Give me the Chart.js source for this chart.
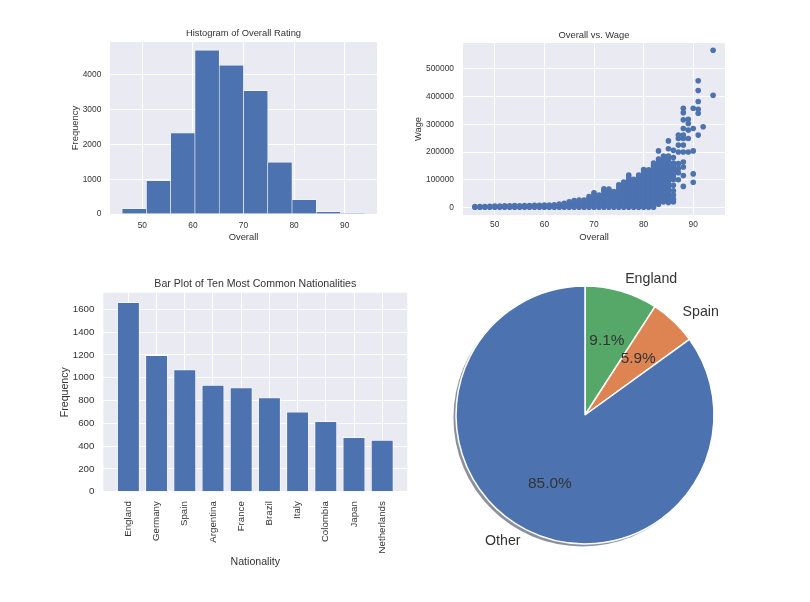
<!DOCTYPE html>
<html>
<head>
<meta charset="utf-8">
<script src="https://cdn.jsdelivr.net/npm/chart.js@4.4.0/dist/chart.umd.min.js"></script>
<style>
  html, body { margin: 0; padding: 0; background: #fff; }
  #page { position: relative; width: 810px; height: 602px; }
  #page canvas { position: absolute; left: 0; top: 0; }
</style>
</head>
<body>
<div id="page">
  <canvas id="histChart" width="810" height="602"></canvas>
  <canvas id="scatterChart" width="810" height="602"></canvas>
  <canvas id="barChart" width="810" height="602"></canvas>
  <canvas id="pieChart" width="810" height="602"></canvas>
</div>
<script>
// histogram of overall rating (10 bins from 46 to 94)
const ratingBinCenters = [48.4, 53.2, 58.0, 62.8, 67.6, 72.4, 77.2, 82.0, 86.8, 91.6];
const ratingCounts = [152, 952, 2324, 4705, 4276, 3543, 1486, 410, 67, 12];
const ratingTicks = [0, 1000, 2000, 3000, 4000];

// overall vs wage, wages (in thousands) read per overall rating
const wageOverall = [46, 47, 48, 49, 50, 51, 52, 53, 54, 55, 56, 57, 58, 59, 60, 61, 62, 63, 64, 65,
  66, 67, 68, 69, 70, 71, 72, 73, 74, 75, 76, 77, 78, 79, 80, 81, 82, 83, 84, 85, 86, 87, 88, 89, 90, 91, 92, 94];
const wageThousands = [
  [1, 3], [1, 3], [1, 3], [1, 4], [1, 5],
  [1, 5], [1, 6], [1, 6], [1, 7], [1, 6],
  [1, 7], [1, 7], [1, 8], [1, 8], [1, 9],
  [1, 9], [1, 10], [1, 6, 12], [1, 8, 15], [1, 7, 14, 20],
  [1, 8, 16, 25], [1, 9, 18, 27], [1, 9, 18, 27], [1, 8, 16, 24, 32, 39],
  [1, 8, 16, 24, 32, 40, 47, 53],
  [1, 8, 16, 24, 32, 39, 45],
  [1, 8, 16, 24, 32, 40, 48, 56, 62, 67],
  [1, 8, 16, 24, 32, 40, 48, 56, 62, 66],
  [1, 8, 16, 24, 32, 40, 48, 57],
  [1, 8, 16, 24, 32, 40, 48, 56, 64, 72, 82],
  [1, 8, 16, 24, 32, 40, 48, 56, 64, 72, 80, 86, 92],
  [1, 8, 16, 24, 32, 40, 48, 56, 64, 72, 80, 88, 96, 104, 110, 117],
  [1, 8, 16, 24, 32, 40, 48, 56, 64, 72, 80, 88, 95, 102],
  [1, 8, 16, 24, 32, 40, 48, 56, 64, 72, 80, 88, 96, 104, 110, 117],
  [1, 8, 16, 24, 32, 40, 48, 56, 64, 72, 80, 88, 96, 104, 112, 120, 128, 137],
  [1, 8, 16, 24, 32, 40, 48, 56, 64, 72, 80, 88, 96, 104, 112, 120, 128, 136],
  [1, 8, 16, 24, 32, 40, 48, 56, 64, 72, 80, 88, 96, 104, 112, 120, 128, 136, 144, 152, 160],
  [12, 20, 28, 36, 44, 52, 60, 68, 76, 84, 92, 100, 108, 116, 124, 132, 140, 148, 156, 164, 175, 204],
  [20, 28, 36, 44, 52, 60, 68, 76, 84, 92, 100, 108, 116, 124, 132, 140, 148, 156, 164, 172, 185],
  [18, 28, 38, 48, 58, 68, 78, 88, 98, 108, 118, 128, 138, 148, 160, 172, 185, 212, 240],
  [20, 30, 45, 60, 80, 100, 110, 120, 130, 140, 150, 160, 180, 206],
  [100, 125, 140, 158, 200, 225, 249, 261],
  [76, 115, 146, 164, 200, 225, 249, 261, 285, 316, 342, 358],
  [200, 249, 279, 303, 318],
  [91, 121, 204, 285, 358],
  [261, 340, 354, 382, 422, 457],
  [291],
  [405, 567]
];
const wageTicks = [0, 100000, 200000, 300000, 400000, 500000];

// ten most common nationalities
const nationalities = ['England', 'Germany', 'Spain', 'Argentina', 'France', 'Brazil', 'Italy', 'Colombia', 'Japan', 'Netherlands'];
const nationalityCounts = [1662, 1198, 1072, 937, 914, 827, 702, 618, 478, 453];

// pie share
const pieLabels = ['England', 'Spain', 'Other'];
const pieCounts = [1662, 1072, 15473];

const BLUE = '#4C72B0';
const ORANGE = '#DD8452';
const GREEN = '#55A868';
const AXES_BG = '#EAEAF2';
const TEXT = '#333333';
const FONT = '"Liberation Sans", Arial, sans-serif';

function font(size) {
  return { family: FONT, size: size, lineHeight: 1.2 };
}

// grey axes background + title centred on the plot area
const framePlugin = {
  id: 'frame',
  beforeDraw(chart, args, opts) {
    const a = chart.chartArea;
    const ctx = chart.ctx;
    ctx.save();
    ctx.fillStyle = AXES_BG;
    ctx.fillRect(a.left, a.top, a.right - a.left, a.bottom - a.top);
    ctx.restore();
  },
  afterDraw(chart, args, opts) {
    const a = chart.chartArea;
    const ctx = chart.ctx;
    ctx.save();
    ctx.font = opts.size + 'px ' + FONT;
    ctx.fillStyle = TEXT;
    ctx.textAlign = 'center';
    ctx.textBaseline = 'middle';
    ctx.fillText(opts.text, (a.left + a.right) / 2, a.top - opts.gap);
    ctx.restore();
  }
};

function linearAxis(o) {
  const axis = {
    type: 'linear',
    min: o.min,
    max: o.max,
    offset: false,
    grid: { color: '#ffffff', lineWidth: 1, drawTicks: false, offset: false },
    border: { display: false },
    ticks: {
      stepSize: o.step,
      includeBounds: false,
      padding: o.pad,
      color: TEXT,
      font: font(o.tickSize),
      autoSkip: false,
      minRotation: o.rotate || 0,
      maxRotation: o.rotate || 0,
      callback: o.labels ? (v) => o.labels[v] : (v) => String(v)
    },
    title: { display: true, text: o.title, color: TEXT, font: font(o.titleSize), padding: 0 },
    afterFit: (scale) => {
      if (scale.isHorizontal()) scale.height = o.box;
      else scale.width = o.box;
    }
  };
  if (o.ticks) {
    axis.afterBuildTicks = (scale) => {
      scale.ticks = o.ticks.map(v => ({ value: v }));
    };
  }
  return axis;
}

function baseOptions(padding, title, titleSize, gap) {
  return {
    responsive: false,
    animation: false,
    events: [],
    layout: { padding: padding },
    plugins: {
      legend: { display: false },
      tooltip: { enabled: false },
      frame: { text: title, size: titleSize, gap: gap }
    }
  };
}

function drawHistogram() {
  const options = baseOptions({ left: 69.4, top: 42, right: 433, bottom: 359.4 }, 'Histogram of Overall Rating', 9.4, 8.7);
  options.scales = {
    x: linearAxis({ min: 43.6, max: 96.4, step: 10, pad: 7, tickSize: 8.4, title: 'Overall', titleSize: 9.4, box: 28.6 }),
    y: linearAxis({ min: 0, max: 4940, ticks: ratingTicks, pad: 8.7, tickSize: 8.4, title: 'Frequency', titleSize: 9.4, box: 40.6 })
  };
  new Chart(document.getElementById('histChart'), {
    type: 'bar',
    data: {
      datasets: [{
        data: ratingBinCenters.map((x, i) => ({ x: x, y: ratingCounts[i] })),
        backgroundColor: BLUE,
        borderColor: '#ffffff',
        borderWidth: 0.6,
        barPercentage: 1,
        categoryPercentage: 1
      }]
    },
    options: options,
    plugins: [framePlugin]
  });
}

function drawScatter() {
  const points = [];
  wageOverall.forEach((ov, i) => {
    wageThousands[i].forEach(w => points.push({ x: ov, y: w * 1000 }));
  });
  const options = baseOptions({ left: 412.4, top: 43, right: 85, bottom: 359.1 }, 'Overall vs. Wage', 9.4, 8);
  options.scales = {
    x: linearAxis({ min: 43.6, max: 96.4, step: 10, pad: 5, tickSize: 8.4, title: 'Overall', titleSize: 9.4, box: 27.9 }),
    y: linearAxis({ min: -27200, max: 593200, ticks: wageTicks, pad: 9, tickSize: 8.4, title: 'Wage', titleSize: 9.4, box: 50.6 })
  };
  new Chart(document.getElementById('scatterChart'), {
    type: 'scatter',
    data: {
      datasets: [{
        data: points,
        backgroundColor: BLUE,
        borderWidth: 0,
        pointRadius: 2.8
      }]
    },
    options: options,
    plugins: [framePlugin]
  });
}

function drawBars() {
  const options = baseOptions({ left: 58.6, top: 292.7, right: 402.7, bottom: 33.9 }, 'Bar Plot of Ten Most Common Nationalities', 10.6, 8.7);
  options.scales = {
    x: linearAxis({ min: -0.89, max: 9.89, step: 1, pad: 9.5, tickSize: 9.7, title: 'Nationality', titleSize: 10.6, box: 76.4, rotate: 90, labels: nationalities }),
    y: linearAxis({ min: 0, max: 1745, step: 200, pad: 9, tickSize: 9.7, title: 'Frequency', titleSize: 10.6, box: 44.7 })
  };
  new Chart(document.getElementById('barChart'), {
    type: 'bar',
    data: {
      datasets: [{
        data: nationalityCounts.map((c, i) => ({ x: i, y: c })),
        backgroundColor: BLUE,
        borderColor: '#ffffff',
        borderWidth: 0.8,
        barPercentage: 1,
        categoryPercentage: 0.8
      }]
    },
    options: options,
    plugins: [framePlugin]
  });
}

// shadow under the pie and matplotlib style labels / percentages
const pieTextPlugin = {
  id: 'pieText',
  beforeDatasetsDraw(chart) {
    const arc = chart.getDatasetMeta(0).data[0];
    const ctx = chart.ctx;
    const off = arc.outerRadius * 0.02;
    ctx.save();
    ctx.fillStyle = 'rgba(23, 34, 53, 0.5)';
    ctx.beginPath();
    ctx.arc(arc.x - off, arc.y + off, arc.outerRadius, 0, Math.PI * 2);
    ctx.fill();
    ctx.restore();
  },
  afterDatasetsDraw(chart) {
    const ctx = chart.ctx;
    const total = pieCounts.reduce((a, b) => a + b, 0);
    ctx.save();
    ctx.fillStyle = TEXT;
    ctx.textBaseline = 'middle';
    chart.getDatasetMeta(0).data.forEach((arc, i) => {
      const mid = (arc.startAngle + arc.endAngle) / 2;
      const r = arc.outerRadius;
      const lx = arc.x + Math.cos(mid) * r * 1.1;
      const ly = arc.y + Math.sin(mid) * r * 1.1;
      ctx.font = '14.2px ' + FONT;
      ctx.textAlign = lx >= arc.x ? 'left' : 'right';
      ctx.fillText(pieLabels[i], lx, ly);
      ctx.font = '15.4px ' + FONT;
      ctx.textAlign = 'center';
      const pct = (pieCounts[i] / total * 100).toFixed(1) + '%';
      ctx.fillText(pct, arc.x + Math.cos(mid) * r * 0.6, arc.y + Math.sin(mid) * r * 0.6);
    });
    ctx.restore();
  }
};

function drawPie() {
  new Chart(document.getElementById('pieChart'), {
    type: 'pie',
    data: {
      labels: pieLabels,
      datasets: [{
        data: pieCounts,
        backgroundColor: [GREEN, ORANGE, BLUE],
        borderColor: '#ffffff',
        borderWidth: 1.5
      }]
    },
    options: {
      responsive: false,
      animation: false,
      events: [],
      radius: 129,
      layout: { padding: { left: 456, top: 286, right: 96, bottom: 58 } },
      plugins: { legend: { display: false }, tooltip: { enabled: false } }
    },
    plugins: [pieTextPlugin]
  });
}

drawHistogram();
drawScatter();
drawBars();
drawPie();
</script>
</body>
</html>
